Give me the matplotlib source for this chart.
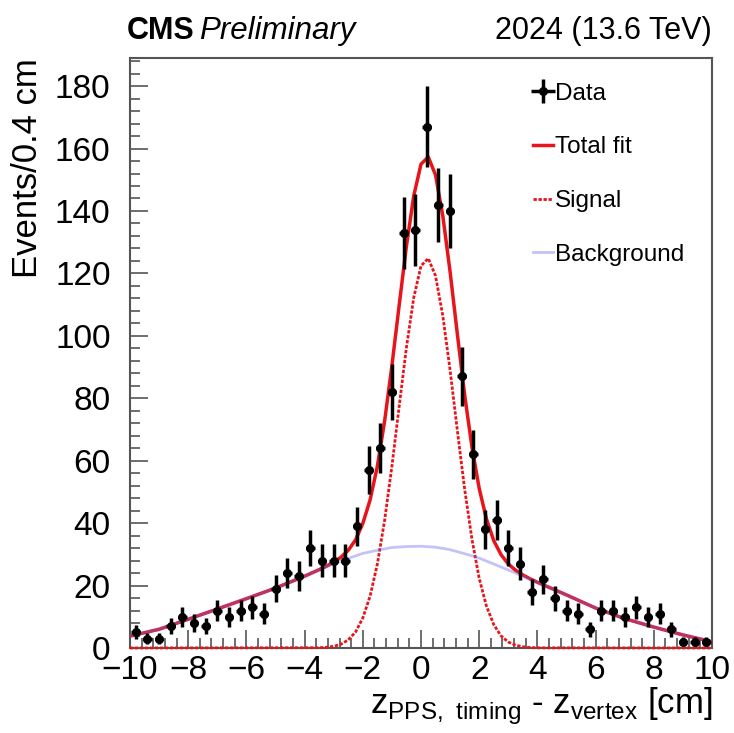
import numpy as np
import matplotlib
matplotlib.use('Agg')
from matplotlib import pyplot as plt
from matplotlib.ticker import MultipleLocator

plt.rcParams['font.family'] = ['Liberation Sans', 'DejaVu Sans']
plt.rcParams['mathtext.fontset'] = 'custom'
plt.rcParams['mathtext.rm'] = 'Liberation Sans'

# data points, 0.4 cm bins
bin_centers = np.arange(-9.8, 10.0, 0.4)
counts = [5, 3, 3, 7, 10, 8, 7, 12, 10, 12,
          13, 11, 19, 24, 23, 32, 28, 28, 28, 39,
          57, 64, 82, 133, 134, 167, 142, 140, 87, 62,
          38, 41, 32, 27, 18, 22, 16, 12, 11, 6,
          12, 12, 10, 13, 10, 11, 6, 2, 2, 2]

# background curve
bkg_x = [-10, -9, -8, -7, -6, -5, -4, -3, -2.5, -2, -1.5, -1, -0.5, 0,
         0.5, 1, 1.5, 2, 2.5, 3, 4, 5, 6, 7, 8, 9, 10]
bkg_y = [3.8, 6.0, 9.2, 12.5, 15.8, 19.2, 23.0, 27.0, 28.7, 30.3, 31.3, 32.2, 32.5, 32.6,
         32.3, 31.5, 30.2, 28.8, 26.9, 25.0, 21.0, 17.0, 12.8, 9.4, 6.7, 4.2, 2.0]

# signal curve
sig_x = [-10, -3.5, -3.25, -3, -2.75, -2.5, -2.25, -2, -1.75, -1.5, -1.25, -1, -0.75,
         -0.5, -0.25, 0, 0.25, 0.5, 0.75, 1, 1.25, 1.5, 1.75, 2, 2.25, 2.5, 2.75,
         3, 3.25, 3.5, 3.75, 4, 10]
sig_y = [0, 0.09, 0.22, 0.54, 1.2, 2.6, 5.1, 9.6, 16.6, 26.9, 40.9, 58.2, 77.4,
         96.3, 112.2, 122.4, 124.8, 119.2, 106.4, 89.0, 69.6, 50.9, 34.9, 22.3, 13.4, 7.5, 3.9,
         1.9, 0.9, 0.4, 0.15, 0.05, 0]

# total fit curve
tot_x = [-10, -9, -8, -7, -6, -5, -4, -3.5, -3.25, -3, -2.75, -2.5, -2.25, -2, -1.75,
         -1.5, -1.25, -1, -0.75, -0.5, -0.25, 0, 0.25, 0.5, 0.75, 1, 1.25, 1.5, 1.75,
         2, 2.25, 2.5, 2.75, 3, 3.25, 3.5, 3.75, 4, 5, 6, 7, 8, 9, 10]
tot_y = [3.8, 6.0, 9.2, 12.5, 15.8, 19.2, 23.0, 25.1, 26.2, 27.5, 29.1, 31.3, 34.6, 39.9, 47.4,
         58.2, 72.7, 90.4, 109.8, 128.8, 144.8, 155.0, 157.3, 151.5, 138.4, 120.5, 100.5, 81.1, 64.4,
         51.1, 41.3, 34.4, 29.9, 26.9, 24.9, 23.4, 22.15, 21.05, 17.0, 12.8, 9.4, 6.7, 4.2, 2.0]

fig = plt.figure(figsize=(7.34, 7.33), dpi=100)
fig.set_facecolor('white')
ax = fig.add_axes([130/734, 1-648/733, 582/734, 590/733])

ax.plot(tot_x, tot_y, color='#e8141c', linewidth=2.5, label='Total fit', zorder=3)
ax.plot(sig_x, sig_y, color='#e8141c', linewidth=2, linestyle=(0, (1.2, 0.6)),
        label='Signal', zorder=3, clip_on=False)
ax.plot(bkg_x, bkg_y, color='#6a6aee', alpha=0.4, linewidth=2, label='Background', zorder=4)

ax.errorbar(bin_centers, counts, yerr=np.sqrt(counts), xerr=0.15, fmt='o', color='black',
            markersize=5.5, elinewidth=2.5, capsize=0, label='Data', zorder=5)

ax.set_xlim(-10, 10)
ax.set_ylim(0, 189)
ax.xaxis.set_major_locator(MultipleLocator(2))
ax.xaxis.set_minor_locator(MultipleLocator(0.4))
ax.yaxis.set_major_locator(MultipleLocator(20))
ax.yaxis.set_minor_locator(MultipleLocator(4))
ax.tick_params(which='both', direction='in', top=False, right=False, labelsize=24, color='#555555')
ax.tick_params(which='major', length=13, width=1.2)
ax.tick_params(which='minor', length=7, width=1.2)
ax.tick_params(axis='x', pad=5)
ax.tick_params(axis='y', pad=14)
for s in ax.spines.values():
    s.set_color('#555555')
    s.set_linewidth(1.5)

ax.set_ylabel('Events/0.4 cm', fontsize=25, loc='top', labelpad=8)
ax.set_xlabel(r'z$_{\mathregular{PPS,\ timing}}$ - z$_{\mathregular{vertex}}$ [cm]',
              fontsize=25, loc='right', labelpad=0)

ax.text(-0.005, 1.02, 'CMS', transform=ax.transAxes, fontsize=22, fontweight='bold',
        ha='left', va='bottom')
ax.text(0.118, 1.02, 'Preliminary', transform=ax.transAxes, fontsize=22.5, style='italic',
        ha='left', va='bottom')
ax.text(1.0, 1.02, '2024 (13.6 TeV)', transform=ax.transAxes, fontsize=22,
        ha='right', va='bottom')

handles, labels = ax.get_legend_handles_labels()
order = [3, 0, 1, 2]
ax.legend([handles[i] for i in order], [labels[i] for i in order], loc='upper left',
          bbox_to_anchor=(0.655, 0.995), frameon=False, fontsize=17.5, handlelength=0.8,
          handletextpad=0.1, labelspacing=1.3)

fig.savefig('out.png', dpi=100)
